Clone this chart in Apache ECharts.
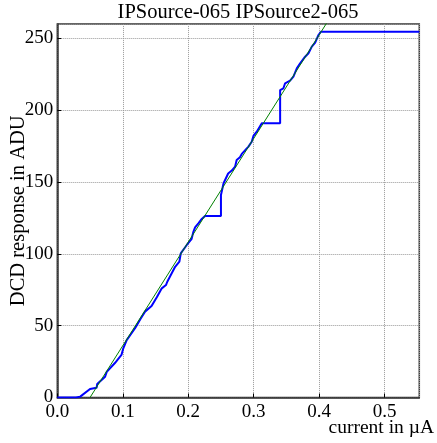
<!DOCTYPE html>
<html>
<head>
<meta charset="utf-8">
<script src="https://cdn.jsdelivr.net/npm/echarts@6/dist/echarts.min.js"></script>
<style>html,body{margin:0;padding:0;background:#fff;}#c{width:437px;height:443px;}</style>
</head>
<body>
<div id="c"></div>
<script>
// Measured DCD response (blue step curve): [current µA, ADU]
var responseData = [
  [0, 0], [0.0286, 0], [0.035, 0.6], [0.050, 5.9], [0.060, 6.8], [0.061, 9.4],
  [0.073, 14.5], [0.0755, 17.8], [0.088, 24], [0.098, 29.6], [0.100, 30], [0.1005, 33.8],
  [0.106, 40], [0.119, 48.4], [0.127, 54.7], [0.134, 59.8], [0.144, 63.7], [0.152, 69.8],
  [0.1596, 76], [0.166, 78.3], [0.168, 80.6], [0.180, 91], [0.1865, 94.6], [0.1886, 100.4],
  [0.1978, 106.2], [0.205, 110.2], [0.208, 115.5], [0.2105, 118.5], [0.2155, 121.3],
  [0.2207, 124.3], [0.2257, 126.4], [0.2500, 126.4], [0.2500, 141], [0.254, 149.2],
  [0.261, 156], [0.2665, 158], [0.2716, 160.7], [0.274, 165.4], [0.279, 167.3],
  [0.2818, 169.6], [0.292, 174.7], [0.297, 178.1], [0.2996, 182.1], [0.3047, 185.1],
  [0.3124, 191], [0.3404, 191], [0.3404, 214.1], [0.3454, 215.3], [0.348, 218.8],
  [0.3556, 220.6], [0.3607, 223.4], [0.3659, 229.2], [0.371, 232.7], [0.3786, 237.3],
  [0.3837, 239.7], [0.3888, 244.3], [0.3939, 247.1], [0.399, 252.4], [0.4026, 254.7],
  [0.553, 254.7]
];
// Linear fit (green line) endpoints
var fitData = [[0.050, 0], [0.416, 264]];
var xTicks = [0.0, 0.1, 0.2, 0.3, 0.4, 0.5];
var yTicks = [0, 50, 100, 150, 200, 250];
var titleText = 'IPSource-065 IPSource2-065';
var xLabel = 'current in \u00b5A';
var yLabel = 'DCD response in ADU';

var FONT = '"Liberation Serif", "DejaVu Serif", serif';
var chart = echarts.init(document.getElementById('c'), null, {renderer: 'canvas'});
chart.setOption({
  animation: false,
  backgroundColor: '#fff',
  title: [
    {text: titleText, left: 238, top: 2, textAlign: 'center', padding: 0,
     textStyle: {fontFamily: FONT, fontSize: 20.5, fontWeight: 'normal', color: '#000'}},
    {text: xLabel, right: 3, top: 418, padding: 0,
     textStyle: {fontFamily: FONT, fontSize: 19.5, fontWeight: 'normal', color: '#000'}}
  ],
  grid: {left: 57.3, right: 17.7, top: 24.1, bottom: 45.5, show: true,
         containLabel: false, outerBoundsMode: 'none',
         borderColor: '#333', borderWidth: 1.5, backgroundColor: 'transparent'},
  xAxis: {
    type: 'value', min: 0, max: 0.553, interval: 0.1,
    axisLine: {show: true, onZero: false, lineStyle: {color: '#333', width: 1.5}},
    axisTick: {show: true, inside: true, length: 4, lineStyle: {color: '#000'}},
    axisLabel: {show: true, margin: 5, showMaxLabel: false, color: '#000',
      fontFamily: FONT, fontSize: 19,
      formatter: function (v) { return xTicks.indexOf(Math.round(v*10)/10) >= 0 ? v.toFixed(1) : ''; }},
    splitLine: {show: true, lineStyle: {color: '#999', type: [1, 1], width: 1}}
  },
  yAxis: {
    type: 'value', min: 0, max: 260, interval: 50,
    name: yLabel, nameLocation: 'middle', nameGap: 28, nameMoveOverlap: false,
    nameTextStyle: {fontFamily: FONT, fontSize: 20.5, color: '#000'},
    axisLine: {show: true, onZero: false, lineStyle: {color: '#333', width: 1.5}},
    axisTick: {show: true, inside: true, length: 4, lineStyle: {color: '#000'}},
    axisLabel: {show: true, margin: 4, showMaxLabel: false, color: '#000',
      fontFamily: FONT, fontSize: 19,
      formatter: function (v) { return yTicks.indexOf(v) >= 0 ? String(v) : ''; }},
    splitLine: {show: true, lineStyle: {color: '#999', type: [1, 1], width: 1}}
  },
  series: [
    {type: 'line', data: fitData, showSymbol: false, clip: true, z: 3,
     lineStyle: {color: '#008000', width: 1}},
    {type: 'line', data: responseData, showSymbol: false, clip: true, z: 2,
     lineStyle: {color: '#0000ff', width: 2}}
  ]
});
</script>
</body>
</html>
